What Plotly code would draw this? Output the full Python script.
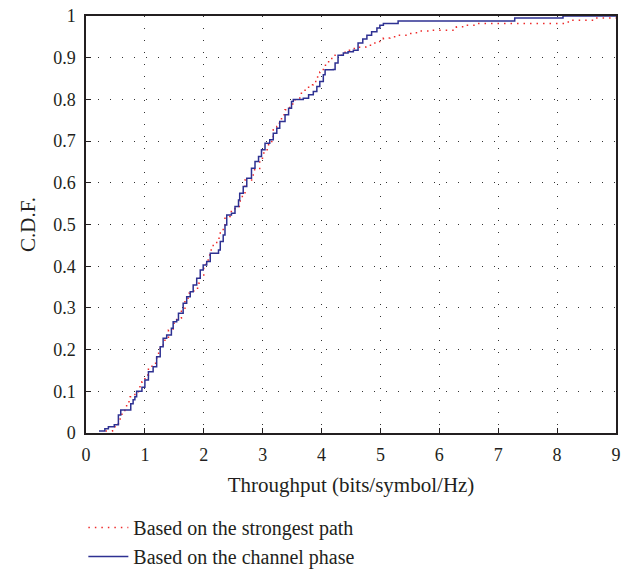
import plotly.graph_objects as go

# Throughput (bits/symbol/Hz) at each CDF step, and the CDF level after the step
phase_x = [0.22, 0.32, 0.38, 0.48, 0.55, 0.59, 0.76, 0.80, 0.83, 0.86, 0.95, 1.00, 1.06, 1.14,
           1.20, 1.26, 1.31, 1.37, 1.45, 1.48, 1.54, 1.57, 1.65, 1.71, 1.77, 1.82, 1.88, 1.94,
           1.99, 2.05, 2.11, 2.25, 2.28, 2.33, 2.36, 2.39, 2.47, 2.53, 2.59, 2.61, 2.67, 2.73,
           2.81, 2.87, 2.93, 2.98, 3.04, 3.12, 3.18, 3.24, 3.29, 3.38, 3.44, 3.49, 3.52, 3.69,
           3.78, 3.86, 3.92, 3.97, 4.03, 4.06, 4.20, 4.23, 4.28, 4.37, 4.45, 4.54, 4.62, 4.70,
           4.77, 4.85, 4.94, 4.99, 5.05, 5.30, 7.28, 8.10, 9.00]
phase_cdf = [0.005, 0.010, 0.015, 0.020, 0.043, 0.055, 0.070, 0.080, 0.087, 0.100, 0.110, 0.127,
             0.147, 0.159, 0.183, 0.207, 0.227, 0.235, 0.251, 0.267, 0.271, 0.287, 0.311, 0.327,
             0.339, 0.355, 0.371, 0.391, 0.403, 0.411, 0.431, 0.439, 0.459, 0.475, 0.499, 0.523,
             0.527, 0.543, 0.559, 0.575, 0.591, 0.611, 0.635, 0.651, 0.663, 0.679, 0.695, 0.703,
             0.719, 0.731, 0.747, 0.763, 0.779, 0.795, 0.800, 0.803, 0.811, 0.819, 0.831, 0.843,
             0.859, 0.871, 0.872, 0.887, 0.906, 0.911, 0.914, 0.918, 0.935, 0.945, 0.954, 0.962,
             0.971, 0.978, 0.982, 0.988, 0.995, 1.000, 1.000]

strong_x = [0.33, 0.45, 0.55, 0.58, 0.61, 0.66, 0.69, 0.75, 0.83, 0.89, 0.95, 1.00, 1.06, 1.12,
            1.20, 1.26, 1.34, 1.40, 1.48, 1.54, 1.62, 1.68, 1.75, 1.83, 1.91, 1.94, 2.00, 2.04,
            2.08, 2.11, 2.16, 2.22, 2.28, 2.33, 2.36, 2.45, 2.53, 2.62, 2.70, 2.84, 2.95, 3.02,
            3.10, 3.18, 3.24, 3.27, 3.32, 3.38, 3.46, 3.55, 3.63, 3.72, 3.78, 3.86, 3.92, 3.97,
            4.03, 4.09, 4.14, 4.23, 4.40, 4.51, 4.60, 4.75, 4.88, 4.96, 5.05, 5.16, 5.30, 5.45,
            5.59, 5.67, 5.87, 6.29, 6.46, 6.63, 8.19, 8.60, 9.20]
strong_cdf = [0.005, 0.015, 0.031, 0.039, 0.051, 0.059, 0.075, 0.087, 0.099, 0.111, 0.123, 0.139,
              0.155, 0.167, 0.191, 0.211, 0.227, 0.247, 0.263, 0.275, 0.299, 0.323, 0.335, 0.347,
              0.359, 0.375, 0.395, 0.415, 0.427, 0.439, 0.455, 0.467, 0.483, 0.499, 0.519, 0.531,
              0.543, 0.567, 0.607, 0.631, 0.659, 0.679, 0.699, 0.727, 0.735, 0.743, 0.763, 0.775,
              0.789, 0.799, 0.815, 0.827, 0.835, 0.843, 0.854, 0.866, 0.882, 0.890, 0.898, 0.906,
              0.918, 0.922, 0.925, 0.930, 0.935, 0.939, 0.947, 0.950, 0.954, 0.958, 0.960, 0.964,
              0.966, 0.974, 0.978, 0.982, 0.990, 0.995, 0.995]

x_ticks = [0, 1, 2, 3, 4, 5, 6, 7, 8, 9]
y_ticks = [0, 0.1, 0.2, 0.3, 0.4, 0.5, 0.6, 0.7, 0.8, 0.9, 1]
y_tick_text = ["0", "0.1", "0.2", "0.3", "0.4", "0.5", "0.6", "0.7", "0.8", "0.9", "1"]

FONT = "Liberation Serif"
TXT = "#231f20"

fig = go.Figure()
fig.add_trace(go.Scatter(
    x=strong_x, y=strong_cdf, mode="lines", line_shape="hv",
    line=dict(color="#ee2a2a", width=1.5, dash="1.5px,5px"),
    name="Based on the strongest path"))
fig.add_trace(go.Scatter(
    x=phase_x, y=phase_cdf, mode="lines", line_shape="hv",
    line=dict(color="#2e3192", width=1.5),
    name="Based on the channel phase"))

axis_common = dict(
    showline=True, linecolor=TXT, linewidth=1.5, mirror=True,
    ticks="inside", ticklen=5, tickcolor=TXT, tickwidth=1.2,
    showgrid=True, gridcolor="#333333", gridwidth=1, griddash="1px,11px",
    zeroline=False, tickfont=dict(family=FONT, size=18, color=TXT),
    automargin=False,
)

fig.update_xaxes(range=[0, 9], tickvals=x_ticks, ticktext=[str(v) for v in x_ticks],
                 title=dict(text="Throughput (bits/symbol/Hz)", font=dict(family=FONT, size=21, color=TXT),
                            standoff=13),
                 ticklabelstandoff=5, **axis_common)
fig.update_yaxes(range=[0, 1], tickvals=y_ticks, ticktext=y_tick_text,
                 title=dict(text="C.D.F.", font=dict(family=FONT, size=21, color=TXT), standoff=12),
                 ticklabelstandoff=5, **axis_common)

fig.update_layout(
    width=636, height=569,
    margin=dict(l=86, r=20, t=16, b=136, autoexpand=False),
    paper_bgcolor="white", plot_bgcolor="white",
    showlegend=True,
    legend=dict(x=-0.005, y=0.107, xanchor="left", yanchor="top", yref="container",
                font=dict(family=FONT, size=20, color=TXT),
                bgcolor="rgba(0,0,0,0)", tracegroupgap=0, itemwidth=40),
)

fig.write_html("out.html")
